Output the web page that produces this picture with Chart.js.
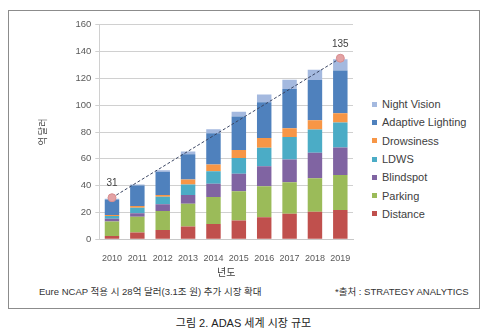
<!DOCTYPE html>
<html>
<head>
<meta charset="utf-8">
<script src="https://cdn.jsdelivr.net/npm/chart.js@4.4.1/dist/chart.umd.min.js"></script>
<style>
    body { margin: 0; background: #fff; width: 487px; height: 334px; position: relative; overflow: hidden;
           font-family: 'Liberation Sans', 'Noto Sans CJK KR', sans-serif; color: #404040; }
    #frame { position: absolute; left: 8px; top: 10px; width: 470px; height: 297px; border: 1px solid #8c8c8c; }
    #chartBox { position: absolute; left: 30px; top: 14px; width: 330px; height: 266px; }
    #legend { position: absolute; left: 372px; top: 95px; margin: 0; padding: 0; list-style: none; font-size: 11px; }
    #legend li { height: 18.3px; line-height: 12px; display: flex; align-items: center; }
    #legend span.box { width: 5px; height: 5px; margin-right: 5px; display: inline-block; }
    .note { position: absolute; top: 284px; font-size: 9.5px; color: #333; white-space: nowrap; }
    #caption { position: absolute; top: 314px; left: 0; width: 487px; text-align: center; font-size: 11px; color: #222; }
</style>
</head>
<body>
<div id="frame"></div>
<div id="chartBox"><canvas id="adasChart" width="330" height="266"></canvas></div>
<ul id="legend"></ul>
<div class="note" style="left:39px;">Eure NCAP 적용 시 28억 달러(3.1조 원) 추가 시장 확대</div>
<div class="note" style="left:335px;">*출처 : STRATEGY ANALYTICS</div>
<div id="caption">그림 2. ADAS 세계 시장 규모</div>

<script>
// market size per segment, 억 달러
const years = ['2010', '2011', '2012', '2013', '2014', '2015', '2016', '2017', '2018', '2019'];
const distance = [2.5, 5.0, 7.0, 9.5, 11.5, 14.0, 16.5, 19.0, 20.6, 21.9];
const parking = [10.7, 11.9, 14.1, 17.0, 20.0, 21.8, 23.0, 23.5, 24.9, 26.1];
const blindspot = [2.2, 2.5, 5.0, 6.5, 10.0, 13.0, 15.0, 17.0, 19.0, 20.4];
const ldws = [2.0, 4.2, 5.7, 7.8, 9.3, 11.8, 13.8, 16.8, 17.3, 18.6];
const drowsiness = [0.8, 1.2, 1.2, 3.8, 5.0, 6.0, 7.3, 6.5, 7.0, 7.0];
const adaptiveLighting = [11.4, 15.4, 17.4, 18.8, 23.3, 25.0, 26.5, 29.3, 30.0, 31.9];
const nightVision = [0.6, 0.6, 1.0, 2.0, 3.0, 3.5, 5.8, 6.8, 7.7, 8.4];
// total trend (first and last year only)
const trend = [31, null, null, null, null, null, null, null, null, 135];
const yTicks = [0, 20, 40, 60, 80, 100, 120, 140, 160];

const tickFont = "'Liberation Sans', sans-serif";

const segments = [
    { label: 'Distance', data: distance, color: '#c0504d' },
    { label: 'Parking', data: parking, color: '#9bbb59' },
    { label: 'Blindspot', data: blindspot, color: '#8064a2' },
    { label: 'LDWS', data: ldws, color: '#4bacc6' },
    { label: 'Drowsiness', data: drowsiness, color: '#f79646' },
    { label: 'Adaptive Lighting', data: adaptiveLighting, color: '#4f81bd' },
    { label: 'Night Vision', data: nightVision, color: '#a4b9df' }
];

const barSets = segments.map(s => ({
    type: 'bar',
    label: s.label,
    data: s.data,
    backgroundColor: s.color,
    barPercentage: 0.57,
    categoryPercentage: 1.0,
    order: 2
}));

const trendSet = {
    type: 'line',
    label: 'Total',
    data: trend,
    spanGaps: true,
    borderColor: '#3b4663',
    borderWidth: 1,
    borderDash: [3, 2],
    pointRadius: 4,
    pointBackgroundColor: '#e3a2a4',
    pointBorderColor: '#d88e90',
    pointBorderWidth: 1,
    order: 1
};

// value labels above the trend points
const trendLabels = {
    id: 'trendLabels',
    afterDatasetsDraw(chart) {
        const meta = chart.getDatasetMeta(chart.data.datasets.length - 1);
        const ctx = chart.ctx;
        ctx.save();
        ctx.font = '10px ' + tickFont;
        ctx.fillStyle = '#404040';
        ctx.textAlign = 'center';
        ctx.textBaseline = 'middle';
        trend.forEach((v, i) => {
            if (v === null) return;
            const p = meta.data[i];
            ctx.fillText(String(v), p.x, p.y - 14);
        });
        ctx.restore();
    }
};

const ctx = document.getElementById('adasChart').getContext('2d');
new Chart(ctx, {
    data: { labels: years, datasets: [...barSets, trendSet] },
    plugins: [trendLabels],
    options: {
        responsive: false,
        animation: false,
        layout: { padding: { top: 10.7, right: 7, left: 0, bottom: 0 } },
        plugins: { legend: { display: false }, tooltip: { enabled: false } },
        scales: {
            x: {
                stacked: true,
                grid: { display: false },
                border: { color: '#c8c8c8' },
                ticks: { color: '#595959', font: { family: tickFont, size: 9 }, padding: 6, maxRotation: 0 },
                title: { display: true, text: '년도', color: '#404040', font: { family: "'Noto Sans CJK KR'", size: 10 }, padding: { top: 0, bottom: 2 } },
                afterFit(scale) { scale.height = 40.7; }
            },
            y: {
                stacked: true,
                min: 0,
                max: 160,
                afterBuildTicks(scale) { scale.ticks = yTicks.map(v => ({ value: v })); },
                grid: { color: '#d0d0d0', tickLength: 4 },
                border: { color: '#d0d0d0' },
                ticks: { color: '#595959', font: { family: tickFont, size: 9.5 }, padding: 4 },
                title: { display: true, text: '억 달러', color: '#404040', font: { family: "'Noto Sans CJK KR'", size: 9 }, padding: { top: 7.6, bottom: 0 } },
                afterFit(scale) { scale.width = 69.3; }
            }
        }
    }
});

// legend, top entry first
const legend = document.getElementById('legend');
segments.slice().reverse().forEach(s => {
    const li = document.createElement('li');
    li.innerHTML = '<span class="box" style="background:' + s.color + '"></span>' + s.label;
    legend.appendChild(li);
});
</script>
</body>
</html>
